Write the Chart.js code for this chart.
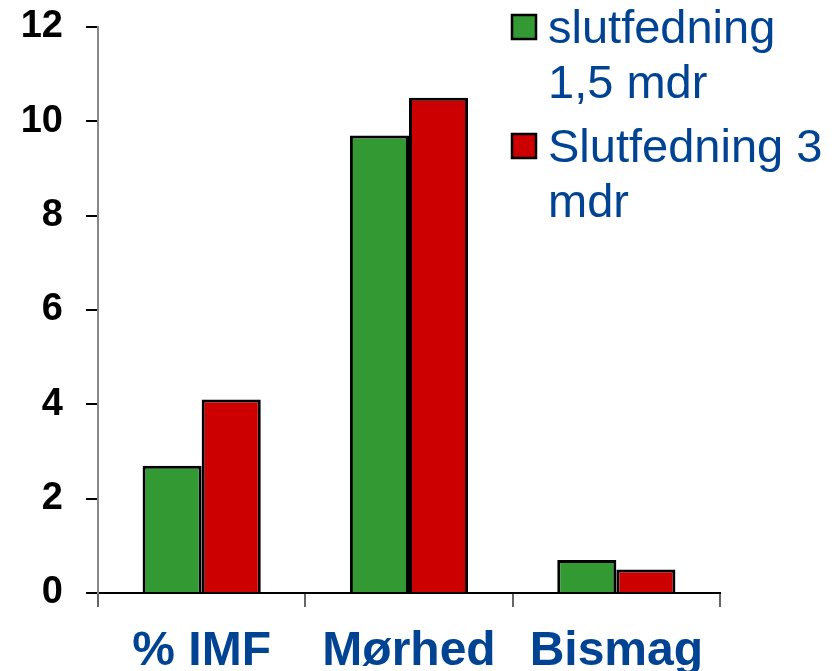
<!DOCTYPE html>
<html>
<head>
<meta charset="utf-8">
<script src="https://cdn.jsdelivr.net/npm/chart.js@4/dist/chart.umd.min.js"></script>
<style>
  html, body { margin: 0; padding: 0; background: #fff; }
  #wrap { width: 838px; height: 671px; }
</style>
</head>
<body>
<div id="wrap"><canvas id="c" width="838" height="671"></canvas></div>
<script>
// Categories and series
const categories = ['% IMF', 'Mørhed', 'Bismag'];
const kort = [2.7, 9.7, 0.7];   // slutfedning 1,5 mdr
const lang = [4.1, 10.5, 0.5];  // Slutfedning 3 mdr
const seriesLines = [['slutfedning', '1,5 mdr'], ['Slutfedning 3', 'mdr']];
const yTicks = [0, 2, 4, 6, 8, 10, 12];

const GREEN = '#339933';
const RED = '#cc0000';
const BLUE = '#004393';
const FONT = '"Liberation Sans", Arial, sans-serif';

// Legend drawn at the top right, each entry on two lines
const sideLegend = {
  id: 'sideLegend',
  afterDraw(chart) {
    const ctx = chart.ctx;
    ctx.save();
    ctx.font = '47px ' + FONT;
    ctx.textAlign = 'left';
    ctx.textBaseline = 'alphabetic';
    const entries = chart.data.datasets.map((ds, i) => ({ lines: seriesLines[i], color: ds.backgroundColor }));
    const boxX = 512, boxSize = 24, textX = 548;
    const firstBase = [43, 162];
    entries.forEach((e, i) => {
      const base = firstBase[i];
      ctx.fillStyle = e.color;
      ctx.fillRect(boxX, base - 28, boxSize, boxSize);
      ctx.lineWidth = 2.5;
      ctx.strokeStyle = '#000';
      ctx.strokeRect(boxX, base - 28, boxSize, boxSize);
      ctx.fillStyle = BLUE;
      e.lines.forEach((ln, k) => ctx.fillText(ln, textX, base + k * 55));
    });
    ctx.restore();
  }
};

new Chart(document.getElementById('c'), {
  type: 'bar',
  data: {
    labels: categories,
    datasets: [
      { label: seriesLines[0].join(' '), data: kort, backgroundColor: GREEN, borderColor: '#000', borderWidth: 3 },
      { label: seriesLines[1].join(' '), data: lang, backgroundColor: RED, borderColor: '#000', borderWidth: 3 }
    ]
  },
  options: {
    responsive: false,
    animation: false,
    events: [],
    layout: { padding: { top: 27, right: 118, left: 0, bottom: 0 } },
    datasets: { bar: { categoryPercentage: 0.57, barPercentage: 1.0 } },
    plugins: { legend: { display: false }, tooltip: { enabled: false } },
    scales: {
      x: {
        afterFit(s) { s.height = 78; },
        grid: { display: true, drawOnChartArea: false, offset: true, tickLength: 14, color: '#666', lineWidth: 2 },
        border: { display: true, color: '#000', width: 2 },
        ticks: { color: BLUE, font: { family: FONT, size: 48, weight: 'bold' }, padding: 16, maxRotation: 0 }
      },
      y: {
        min: 0, max: 12,
        afterFit(s) { s.width = 98; s.paddingTop = 0; s.paddingBottom = 0; },
        afterBuildTicks(s) { s.ticks = yTicks.map(v => ({ value: v })); },
        grid: { display: true, drawOnChartArea: false, tickLength: 12, color: '#000', lineWidth: 2 },
        border: { display: true, color: '#888', width: 2 },
        ticks: { color: '#000', font: { family: FONT, size: 38, weight: 'bold' }, padding: 23 }
      }
    }
  },
  plugins: [sideLegend]
});
</script>
</body>
</html>
